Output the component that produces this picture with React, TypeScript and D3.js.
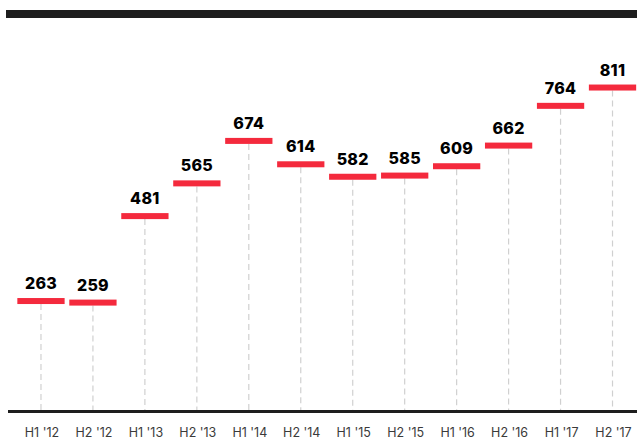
import React from "react";
import * as d3 from "d3";

const categories = ["H1 '12", "H2 '12", "H1 '13", "H2 '13", "H1 '14", "H2 '14", "H1 '15", "H2 '15", "H1 '16", "H2 '16", "H1 '17", "H2 '17"];
const values = [263, 259, 481, 565, 674, 614, 582, 585, 609, 662, 764, 811];

const W = 637;
const H = 440;
const RED = "#f42a3d";

export default function App() {
  const x = d3.scaleBand<string>().domain(categories).range([15, 638.5]).paddingInner(0.09).paddingOuter(0.045);
  const y = d3.scaleLinear().domain([0, 1000]).range([403.5, 13.9]);
  const baseY = 411;
  const bw = x.bandwidth();
  return (
    <svg width={W} height={H} style={{ position: "absolute", left: 0, top: 0, background: "#fff" }}>
      <rect x={6} y={10} width={W - 6} height={8} fill="#1e1e1e" />
      {categories.map((c, i) => {
        const cx = (x(c) as number) + bw / 2;
        const v = values[i];
        const yc = y(v);
        return (
          <g key={c}>
            <line x1={cx} x2={cx} y1={yc + 3} y2={baseY} stroke="#d0d0d0" strokeWidth={1.2} strokeDasharray="6,4" />
            <rect x={x(c) as number} y={yc - 3} width={bw} height={6} fill={RED} />
            <text x={cx} y={yc - 12} textAnchor="middle" fontFamily="Inter, 'Open Sans', sans-serif" fontWeight={800} fontSize={16} letterSpacing={0.3} fill="#000">{v}</text>
            <text x={cx + 1} y={437} textAnchor="middle" fontFamily="Inter, 'Open Sans', sans-serif" fontWeight={400} fontSize={12.5} fill="#3a3a3a">{c}</text>
          </g>
        );
      })}
      <rect x={8} y={410} width={W - 8} height={3} fill="#1e1e1e" />
    </svg>
  );
}
